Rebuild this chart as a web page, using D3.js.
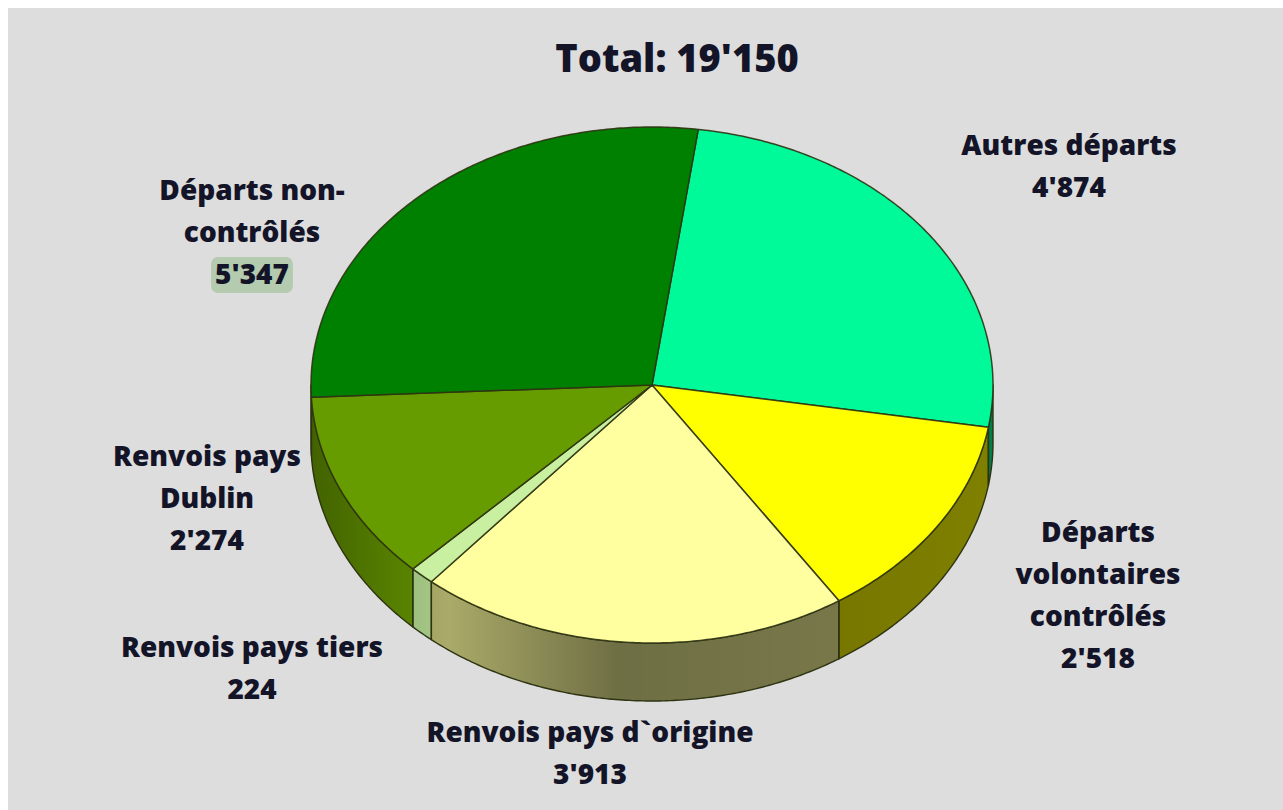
<!DOCTYPE html>
<html>
<head>
<meta charset="utf-8">
<script src="https://cdn.jsdelivr.net/npm/d3@7"></script>
<style>
  html, body { margin: 0; padding: 0; background: #ffffff; }
  svg { display: block; }
</style>
</head>
<body>
<svg id="chart"></svg>
<script>
const categories = ['Autres départs', 'Départs volontaires contrôlés', 'Renvois pays d`origine',
  'Renvois pays tiers', 'Renvois pays Dublin', 'Départs non-contrôlés'];
const values = [4874, 2518, 3913, 224, 2274, 5347];
const labelLines = [
  ['Autres départs'],
  ['Départs', 'volontaires', 'contrôlés'],
  ['Renvois pays d`origine'],
  ['Renvois pays tiers'],
  ['Renvois pays', 'Dublin'],
  ['Départs non-', 'contrôlés']
];
const highlighted = 'Départs non-contrôlés';

// styles and layout (kept apart from the data)
const topColors = ['#00fa9a', '#ffff00', '#ffffa0', '#c8f0a0', '#669c00', '#008000'];
const sideColors = ['#00a865', '#aaaa00', '#aaaa69', '#a8cc88', '#5e8c00', '#006000'];
const labelAnchors = [[1069, 155], [1098, 542], [590, 742], [252, 657], [207, 466], [252, 200]];

let width = 1283, height = 810;
let cx = 652, cy = 385, rx = 341, ry = 258, depth = 58;
let startAngle = 7.8 * Math.PI / 180;
let lineH = 42;
let font = '"Open Sans", Lato, sans-serif';

let svg = d3.select('#chart')
  .attr('width', width)
  .attr('height', height);

let fmt = d3.formatLocale({ decimal: '.', thousands: "'", grouping: [3], currency: ['', ''] }).format(',d');

let data = categories.map((c, i) => ({ name: c, value: values[i], idx: i }));
let total = d3.sum(values);

// background panel
svg.append('rect')
  .attr('x', 8).attr('y', 8)
  .attr('width', width - 8).attr('height', height - 8)
  .attr('fill', '#dddddd');

let defs = svg.append('defs');
let shade = defs.append('linearGradient')
  .attr('id', 'side-shade')
  .attr('gradientUnits', 'userSpaceOnUse')
  .attr('x1', cx - rx).attr('x2', cx + rx)
  .attr('y1', 0).attr('y2', 0);
[[0, 0.3], [0.12, 0.1], [0.2, 0], [0.45, 0.35], [0.77, 0.3], [1, 0.25]].forEach(s => {
  shade.append('stop').attr('offset', s[0]).attr('stop-color', '#000').attr('stop-opacity', s[1]);
});

let pie = d3.pie()
  .sort(null)
  .value(d => d.value)
  .startAngle(startAngle)
  .endAngle(startAngle + 2 * Math.PI);

let arcs = pie(data);

function pt(a, dy) {
  return [cx + rx * Math.sin(a), cy - ry * Math.cos(a) + (dy || 0)];
}

function arcPoints(a0, a1, dy) {
  let n = Math.max(2, Math.ceil(Math.abs(a1 - a0) / 0.01));
  return d3.range(n + 1).map(k => pt(a0 + (a1 - a0) * k / n, dy));
}

let line = d3.line();

// visible outer wall (front half only)
function sidePath(d) {
  let s0 = Math.max(d.startAngle, Math.PI / 2);
  let s1 = Math.min(d.endAngle, 3 * Math.PI / 2);
  if (s1 <= s0) return null;
  let pts = arcPoints(s0, s1, 0).concat(arcPoints(s1, s0, depth));
  return line(pts) + 'Z';
}

function topPath(d) {
  let pts = [[cx, cy]].concat(arcPoints(d.startAngle, d.endAngle, 0));
  return line(pts) + 'Z';
}

let sides = arcs.filter(d => sidePath(d) !== null);

let sideG = svg.append('g');
sideG.selectAll('.side')
  .data(sides)
  .enter()
  .append('path')
  .attr('class', 'side')
  .attr('d', sidePath)
  .attr('fill', d => sideColors[d.data.idx]);

sideG.selectAll('.side-shade')
  .data(sides)
  .enter()
  .append('path')
  .attr('class', 'side-shade')
  .attr('d', sidePath)
  .attr('fill', 'url(#side-shade)')
  .attr('stroke', '#2e3312')
  .attr('stroke-width', 1.4)
  .attr('stroke-linejoin', 'round');

svg.append('g')
  .selectAll('.slice')
  .data(arcs)
  .enter()
  .append('path')
  .attr('class', 'slice')
  .attr('d', topPath)
  .attr('fill', d => topColors[d.data.idx])
  .attr('stroke', '#2e3312')
  .attr('stroke-opacity', 0.9)
  .attr('stroke-width', 1.5)
  .attr('stroke-linejoin', 'round');

// title
svg.append('text')
  .attr('x', 677)
  .attr('y', 72)
  .attr('text-anchor', 'middle')
  .style('font-family', font)
  .style('font-weight', 800)
  .style('font-size', '38px')
  .attr('fill', '#141428')
  .text('Total: ' + fmt(total));

// labels
data.forEach((d, i) => {
  let g = svg.append('g').attr('class', 'label');
  let lines = labelLines[i].concat([fmt(d.value)]);
  let [lx, ly] = labelAnchors[i];
  lines.forEach((t, k) => {
    let txt = g.append('text')
      .attr('x', lx)
      .attr('y', ly + k * lineH)
      .attr('text-anchor', 'middle')
      .style('font-family', font)
      .style('font-weight', 800)
      .style('font-size', '28px')
      .attr('fill', '#141428')
      .text(t);
    if (d.name === highlighted && k === lines.length - 1) {
      let bb = txt.node().getBBox();
      g.insert('rect', 'text')
        .attr('x', bb.x - 4)
        .attr('y', bb.y + 3)
        .attr('width', bb.width + 8)
        .attr('height', bb.height - 2)
        .attr('rx', 7)
        .attr('fill', '#b4cbb0');
    }
  });
});
</script>
</body>
</html>
